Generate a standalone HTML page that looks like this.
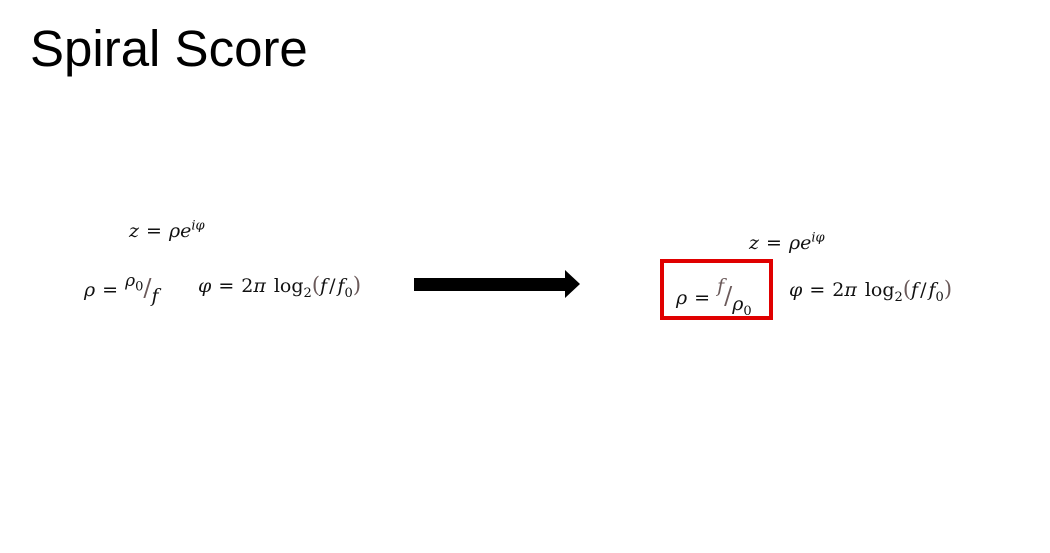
<!DOCTYPE html>
<html><head><meta charset="utf-8"><style>
body{margin:0;width:1050px;height:553px;background:#fff;position:relative;overflow:hidden;font-family:"DejaVu Serif",serif;}
.t{position:absolute;white-space:nowrap;font-size:19px;font-style:italic;color:#111;line-height:1}
.n{font-style:normal}
.e{font-style:normal;margin:0 7px}
.g{color:#6b5a5a}
.p{font-size:21px}
sub,sup{font-size:13px;line-height:0}
</style></head><body>
<div style="position:absolute;left:30px;top:18px;font-family:'Liberation Sans',sans-serif;font-size:51px;color:#000;line-height:1.2">Spiral Score</div>

<div class="t" style="left:129px;top:222px">z<span class="e">=</span>ρe<sup>iφ</sup></div>
<div class="t" style="left:84px;top:276px">ρ<span class="e">=</span><span style="position:relative;top:-10px;font-size:17px">ρ<sub class="n">0</sub></span><span class="g n" style="font-size:24px">/</span><span style="position:relative;top:6px">f</span></div>
<div class="t" style="left:198px;top:275px">φ<span class="e">=</span><span class="n">2</span>π <span class="n" style="margin-left:2px">log<sub>2</sub></span><span class="g n p">(</span>f<span class="n" style="margin:0 2px">/</span>f<sub class="n">0</sub><span class="g n p">)</span></div>

<svg style="position:absolute;left:0;top:0" width="1050" height="553"><polygon points="414,278 565,278 565,270 580,284 565,298 565,291 414,291" fill="#000"/></svg>

<div class="t" style="left:749px;top:234px">z<span class="e">=</span>ρe<sup>iφ</sup></div>
<div style="position:absolute;left:660px;top:259px;width:105px;height:53px;border:4px solid #e00000"></div>
<div class="t" style="left:676px;top:284px">ρ<span class="e">=</span><span class="g" style="position:relative;top:-12px">f</span><span class="g n" style="font-size:24px">/</span><span style="position:relative;top:6px">ρ<sub class="n">0</sub></span></div>
<div class="t" style="left:789px;top:279px">φ<span class="e">=</span><span class="n">2</span>π <span class="n" style="margin-left:2px">log<sub>2</sub></span><span class="g n p">(</span>f<span class="n" style="margin:0 2px">/</span>f<sub class="n">0</sub><span class="g n p">)</span></div>
</body></html>
